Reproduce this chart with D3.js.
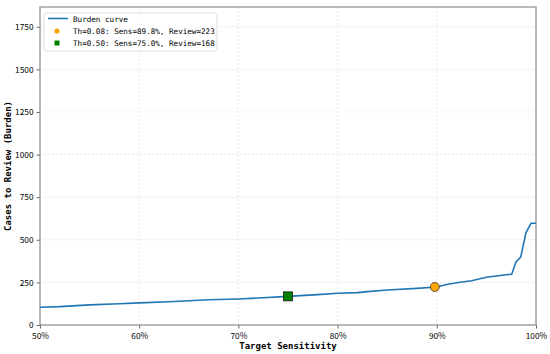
<!DOCTYPE html>
<html>
<head>
<meta charset="utf-8">
<script src="https://cdn.jsdelivr.net/npm/d3@7"></script>
<style>
  body { margin: 0; background: #fff; }
  svg text { fill: #000; }
</style>
</head>
<body>
<svg id="chart" width="550" height="354"></svg>
<script>
// burden curve
var sensitivity = [0.50, 0.52, 0.55, 0.58, 0.60, 0.63, 0.65, 0.67, 0.70, 0.72, 0.75, 0.78, 0.80, 0.82, 0.83, 0.85, 0.88, 0.90, 0.91, 0.92, 0.935, 0.95, 0.96, 0.97, 0.9755, 0.9798, 0.9846, 0.9899, 0.995, 1.0];
var burden =      [104, 108, 118, 125, 130, 136, 142, 148, 153, 158, 168, 178, 186, 190, 196, 205, 215, 223, 238, 248, 260, 280, 288, 295, 298, 370, 398, 542, 597, 597];

var xTicks = [0.5, 0.6, 0.7, 0.8, 0.9, 1.0];
var yTicks = [0, 250, 500, 750, 1000, 1250, 1500, 1750];

var opPoints = [
  { label: "Th=0.08: Sens=89.8%, Review=223", sens: 0.898, review: 223, shape: "circle", color: "#ffa500" },
  { label: "Th=0.50: Sens=75.0%, Review=168", sens: 0.75, review: 168, shape: "square", color: "#008000" }
];

var margin = { left: 40, right: 14, top: 7, bottom: 29 },
    width = 550 - margin.left - margin.right,
    height = 354 - margin.top - margin.bottom;

var svg = d3.select("#chart");
var g = svg.append("g").attr("transform", `translate(${margin.left},${margin.top})`);

var x = d3.scaleLinear().domain([0.5, 1.0]).range([0, width]);
var y = d3.scaleLinear().domain([0, 1866]).range([height, 0]);

var tickFont = "'Noto Sans CJK SC', 'DejaVu Sans', sans-serif";
var monoFont = "'DejaVu Sans Mono', 'Liberation Mono', monospace";

// grid
g.append("g").selectAll("line").data(xTicks).enter().append("line")
  .attr("x1", d => x(d)).attr("x2", d => x(d))
  .attr("y1", 0).attr("y2", height)
  .attr("stroke", "#e2e2e2").attr("stroke-dasharray", "2,2").attr("stroke-width", 0.8);
g.append("g").selectAll("line").data(yTicks).enter().append("line")
  .attr("x1", 0).attr("x2", width)
  .attr("y1", d => y(d)).attr("y2", d => y(d))
  .attr("stroke", "#e2e2e2").attr("stroke-dasharray", "2,2").attr("stroke-width", 0.8);

// axes
var xAxis = g.append("g").attr("transform", `translate(0,${height})`)
  .call(d3.axisBottom(x).tickValues(xTicks).tickFormat(d3.format(".0%")).tickSize(3.5));
var yAxis = g.append("g")
  .call(d3.axisLeft(y).tickValues(yTicks).tickFormat(d => String(d)).tickSize(3.5));

[xAxis, yAxis].forEach(function(a) {
  a.select(".domain").remove();
  a.selectAll("line").attr("stroke", "#666");
  a.selectAll("text").style("font-family", tickFont).style("font-size", "8.3px").attr("fill", "#000");
});
xAxis.selectAll("text").attr("dy", "0.9em");

// frame
g.append("rect").attr("width", width).attr("height", height)
  .attr("fill", "none").attr("stroke", "#8c8c8c").attr("stroke-width", 1.2);

// curve
var line = d3.line().x((d, i) => x(sensitivity[i])).y(d => y(d));
g.append("path").datum(burden)
  .attr("d", line)
  .attr("fill", "none").attr("stroke", "#1f77b4").attr("stroke-width", 1.6);

// operating points
opPoints.forEach(function(p) {
  if (p.shape === "circle") {
    g.append("circle").attr("cx", x(p.sens)).attr("cy", y(p.review)).attr("r", 4.5)
      .attr("fill", p.color).attr("stroke", "#333").attr("stroke-width", 0.8);
  } else {
    g.append("rect").attr("x", x(p.sens) - 4.5).attr("y", y(p.review) - 4.5)
      .attr("width", 9).attr("height", 9)
      .attr("fill", p.color).attr("stroke", "#1a1a1a").attr("stroke-width", 0.8);
  }
});

// axis labels
svg.append("text")
  .attr("x", margin.left + width / 2).attr("y", 349)
  .attr("text-anchor", "middle")
  .style("font-family", monoFont).style("font-size", "9px").style("font-weight", "bold")
  .text("Target Sensitivity");
svg.append("text")
  .attr("transform", `translate(11,${margin.top + height / 2}) rotate(-90)`)
  .attr("text-anchor", "middle")
  .style("font-family", monoFont).style("font-size", "9px").style("font-weight", "bold")
  .text("Cases to Review (Burden)");

// legend
var leg = svg.append("g").attr("transform", "translate(44,13)");
leg.append("rect").attr("width", 173).attr("height", 38).attr("rx", 2.5)
  .attr("fill", "#fff").attr("fill-opacity", 0.85).attr("stroke", "#d6d6d6").attr("stroke-width", 0.8);
leg.append("line").attr("x1", 4).attr("x2", 24).attr("y1", 5.5).attr("y2", 5.5)
  .attr("stroke", "#1f77b4").attr("stroke-width", 1.6);
leg.append("circle").attr("cx", 13).attr("cy", 18).attr("r", 2.6).attr("fill", "#ffa500");
leg.append("rect").attr("x", 10.5).attr("y", 27.5).attr("width", 5).attr("height", 5).attr("fill", "#008000");
var legLabels = ["Burden curve"].concat(opPoints.map(p => p.label));
leg.selectAll("text.lbl").data(legLabels).enter().append("text")
  .attr("class", "lbl")
  .attr("x", 29).attr("y", (d, i) => 8.5 + i * 12.3)
  .style("font-family", monoFont).style("font-size", "7.6px")
  .text(d => d);
</script>
</body>
</html>
